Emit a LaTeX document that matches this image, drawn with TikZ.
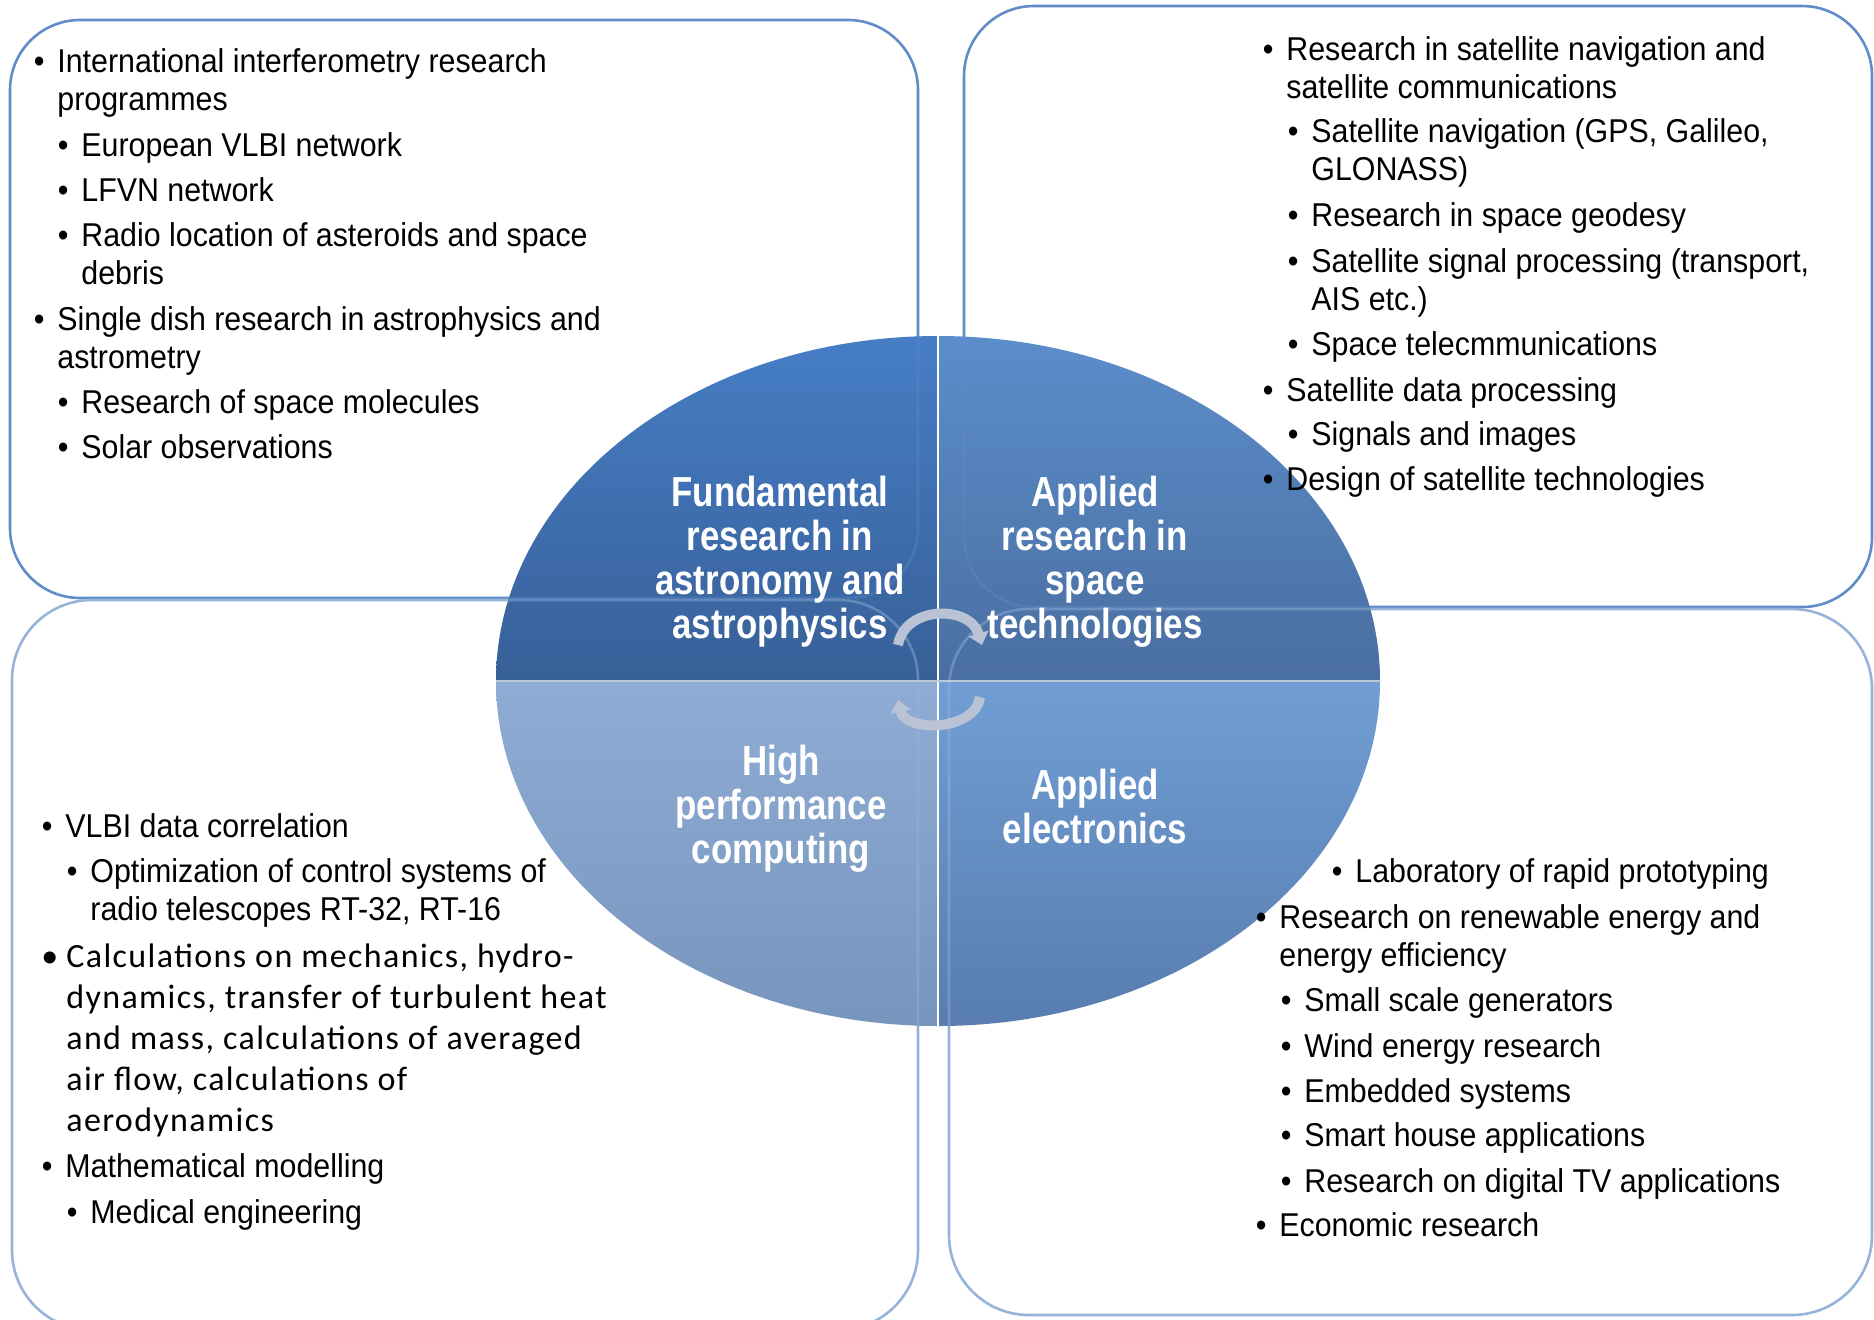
\documentclass[tikz,border=0pt]{standalone}
\usepackage{fontspec}
\setmainfont[FakeStretch=0.92]{Liberation Sans}
\newfontfamily\headfont[FakeStretch=0.83]{Liberation Sans}
\newfontfamily\calfont[LetterSpace=4]{Carlito}
\usetikzlibrary{arrows.meta}

\definecolor{boxtop}{RGB}{96,140,200}
\definecolor{boxbot}{RGB}{150,180,218}
\definecolor{qtltop}{RGB}{70,126,198}
\definecolor{qtlbot}{RGB}{56,96,152}
\definecolor{qtrtop}{RGB}{92,142,204}
\definecolor{qtrbot}{RGB}{74,110,160}
\definecolor{qbltop}{RGB}{142,172,212}
\definecolor{qblbot}{RGB}{118,148,188}
\definecolor{qbrtop}{RGB}{112,158,212}
\definecolor{qbrbot}{RGB}{88,124,174}
\definecolor{arrowgray}{RGB}{186,195,214}
\definecolor{splitgray}{RGB}{190,200,215}

\newcommand{\itmbul}{\llap{\textbullet\hspace{6.5pt}}}

\tikzset{
  itm/.style={anchor=base west, align=left, inner sep=0pt, font=\fontsize{16.5}{19}\selectfont},
  calcitm/.style={anchor=base west, align=left, inner sep=0pt, font=\calfont\fontsize{17}{20.5}\selectfont},
  head/.style={align=center, text=white, inner sep=0pt, font=\headfont\bfseries\fontsize{21}{22}\selectfont},
  boxa/.style={draw=boxtop, line width=1.3pt, rounded corners=35pt, fill=white},
  boxb/.style={draw=boxbot, line width=1.3pt, rounded corners=40pt, fill=white},
  cyclearrow/.style={draw=arrowgray, line width=5pt, -{Triangle[length=6pt,width=10pt]}},
}

\begin{document}
\begin{tikzpicture}[x=0.5pt,y=-0.5pt]
\useasboundingbox (0,0) rectangle (1874,1319);

% four boxes
\draw[boxa] (10,20) rectangle (918,598);
\draw[boxa] (964,6) rectangle (1872,607);
\draw[boxb] (12,600) rectangle (918,1330);
\draw[boxb] (949,609) rectangle (1872,1315);

% the ellipse in four parts
\begin{scope}
\clip (938,681) ellipse [x radius=442, y radius=345];
\shade[top color=qtltop, bottom color=qtlbot] (490,330) rectangle (938,681);
\shade[top color=qtrtop, bottom color=qtrbot] (938,330) rectangle (1386,681);
\shade[top color=qbltop, bottom color=qblbot] (490,681) rectangle (938,1032);
\shade[top color=qbrtop, bottom color=qbrbot] (938,681) rectangle (1386,1032);
\draw[boxtop, line width=1.3pt, rounded corners=35pt, draw opacity=0.35] (10,20) rectangle (918,598);
\draw[boxtop, line width=1.3pt, rounded corners=35pt, draw opacity=0.35] (964,6) rectangle (1872,607);
\draw[boxbot, line width=1.3pt, rounded corners=40pt, draw opacity=0.45] (12,600) rectangle (918,1330);
\draw[boxbot, line width=1.3pt, rounded corners=40pt, draw opacity=0.45] (949,609) rectangle (1872,1315);
\draw[white, line width=0.8pt] (938,330) -- (938,1032);
\draw[splitgray, line width=1.2pt] (490,681) -- (1386,681);
\end{scope}

% arrows in the middle
\coordinate (ua) at (898,645);
\coordinate (ub) at (982,645);
\coordinate (la) at (980,697);
\coordinate (lb) at (898,700);
\draw[cyclearrow] (ua) .. controls (905,605) and (970,605) .. (ub);
\draw[cyclearrow] (la) .. controls (975,732) and (905,732) .. (lb);

\node[head] (hfund) at (780,562) {Fundamental\\research in\\astronomy and\\astrophysics};
\node[head] (hspace) at (1095,562) {Applied\\research in\\space\\technologies};
\node[head] (hhpc) at (781,809) {High\\performance\\computing};
\node[head] (helec) at (1095,806) {Applied\\electronics};

% top left
\node[itm] (tl1) at (57,110) {\itmbul International interferometry research\\programmes};
\node[itm] (tl2) at (81,156) {\itmbul European VLBI network};
\node[itm] (tl3) at (81,201) {\itmbul LFVN network};
\node[itm] (tl4) at (81,284) {\itmbul Radio location of asteroids and space\\debris};
\node[itm] (tl5) at (57,368) {\itmbul Single dish research in astrophysics and\\astrometry};
\node[itm] (tl6) at (81,413) {\itmbul Research of space molecules};
\node[itm] (tl7) at (81,458) {\itmbul Solar observations};

% top right
\node[itm] (tr1) at (1286,98) {\itmbul Research in satellite navigation and\\satellite communications};
\node[itm] (tr2) at (1311,180) {\itmbul Satellite navigation (GPS, Galileo,\\GLONASS)};
\node[itm] (tr3) at (1311,226) {\itmbul Research in space geodesy};
\node[itm] (tr4) at (1311,310) {\itmbul Satellite signal processing (transport,\\AIS etc.)};
\node[itm] (tr5) at (1311,355) {\itmbul Space telecmmunications};
\node[itm] (tr6) at (1286,401) {\itmbul Satellite data processing};
\node[itm] (tr7) at (1311,445) {\itmbul Signals and images};
\node[itm] (tr8) at (1286,490) {\itmbul Design of satellite technologies};

% bottom left
\node[itm] (bl1) at (65,837) {\itmbul VLBI data correlation};
\node[itm] (bl2) at (90,920) {\itmbul Optimization of control systems of\\radio telescopes RT-32, RT-16};
\node[calcitm] (bl3) at (66,1131) {\llap{\textbullet\hspace{4pt}}Calculations on mechanics, hydro-\\dynamics, transfer of turbulent heat\\and mass, calculations of averaged\\air flow, calculations of\\aerodynamics};
\node[itm] (bl4) at (65,1177) {\itmbul Mathematical modelling};
\node[itm] (bl5) at (90,1223) {\itmbul Medical engineering};

% bottom right
\node[itm] (br1) at (1355,882) {\itmbul Laboratory of rapid prototyping};
\node[itm] (br2) at (1279,966) {\itmbul Research on renewable energy and\\energy efficiency};
\node[itm] (br3) at (1304,1011) {\itmbul Small scale generators};
\node[itm] (br4) at (1304,1057) {\itmbul Wind energy research};
\node[itm] (br5) at (1304,1102) {\itmbul Embedded systems};
\node[itm] (br6) at (1304,1146) {\itmbul Smart house applications};
\node[itm] (br7) at (1304,1192) {\itmbul Research on digital TV applications};
\node[itm] (br8) at (1279,1236) {\itmbul Economic research};
\end{tikzpicture}
\end{document}
